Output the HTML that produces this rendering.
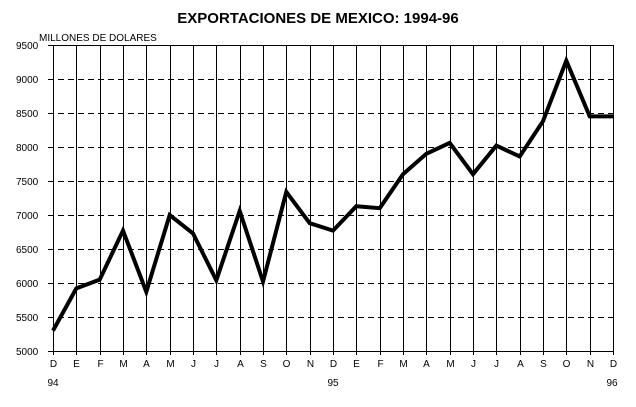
<!DOCTYPE html>
<html><head><meta charset="utf-8"><style>
html,body{margin:0;padding:0;background:#fff;}
svg{display:block;font-family:"Liberation Sans",Arial,sans-serif;}
</style></head><body>
<svg width="636" height="407" viewBox="0 0 636 407" xmlns="http://www.w3.org/2000/svg">
<rect width="636" height="407" fill="#fff"/>
<text x="318" y="23" text-anchor="middle" font-size="15" font-weight="bold">EXPORTACIONES DE MEXICO: 1994-96</text>
<text x="39" y="41" font-size="10">MILLONES DE DOLARES</text>
<g id="grid" stroke="#000" stroke-width="1"></g>
<g id="lab" font-size="10"></g>
<polyline id="ln" fill="none" stroke="#000" stroke-width="4" stroke-linejoin="miter"/>
</svg>
<script>
var L=53,R=613,T=45,B=351,n=24,dx=(R-L)/n;
var g=document.getElementById('grid'),lab=document.getElementById('lab'),NS='http://www.w3.org/2000/svg';
function el(p,t,a,txt){var e=document.createElementNS(NS,t);for(var k in a)e.setAttribute(k,a[k]);if(txt)e.textContent=txt;p.appendChild(e);return e;}
for(var v=5000;v<=9500;v+=500){var y=B-(v-5000)/500*34;
 el(g,'line',{x1:48,x2:R,y1:y+.5,y2:y+.5,'stroke-dasharray':(v==5000||v==9500)?'none':'6,4'});
 el(lab,'text',{x:16,y:y+4},String(v));}
var m="DEFMAMJJASONDEFMAMJJASOND";
for(var i=0;i<=n;i++){var x=Math.round(L+i*dx)+.5;
 el(g,'line',{x1:x,x2:x,y1:T,y2:B+4});
 el(lab,'text',{x:x,y:367,'text-anchor':'middle'},m[i]);}
el(lab,'text',{x:53,y:386,'text-anchor':'middle'},'94');
el(lab,'text',{x:333,y:386,'text-anchor':'middle'},'95');
el(lab,'text',{x:612,y:386,'text-anchor':'middle'},'96');
var d=[5300,5920,6050,6770,5870,7000,6730,6040,7060,6020,7340,6880,6770,7130,7100,7600,7900,8060,7600,8020,7860,8380,9270,8450,8450];
var pts=d.map(function(v,i){return (L+i*dx).toFixed(1)+','+(B-(v-5000)/500*34).toFixed(1)}).join(' ');
document.getElementById('ln').setAttribute('points',pts);
</script>
</body></html>
